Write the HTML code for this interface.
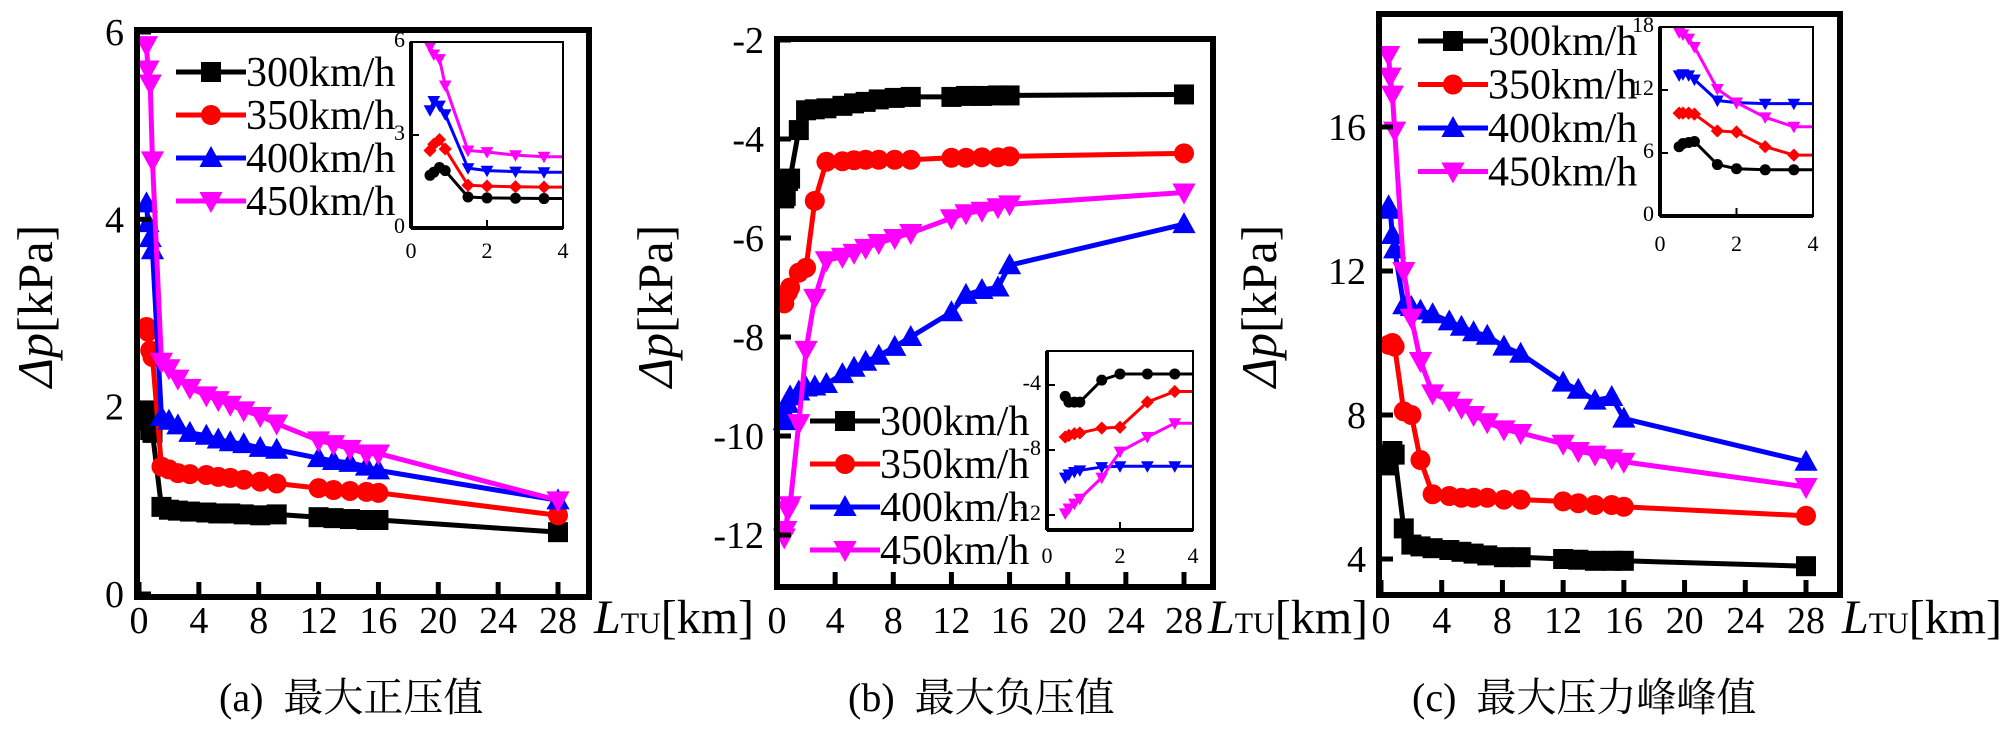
<!DOCTYPE html>
<html><head><meta charset="utf-8"><style>
html,body{margin:0;padding:0;background:#fff;}
svg{display:block;font-family:"Liberation Serif","Times New Roman","DejaVu Serif","Noto Serif CJK SC",serif;}
svg text{font-family:"Liberation Serif","Times New Roman","DejaVu Serif","Noto Serif CJK SC",serif;}
</style></head><body>
<svg id="fig" width="2000" height="731" viewBox="0 0 2000 731" xmlns="http://www.w3.org/2000/svg"></svg>
<script>
// ---------- data ----------
const speeds = ["300km/h","350km/h","400km/h","450km/h"];
const xKm = [0.5,0.6,0.75,0.9,1.5,2,2.6,3.4,4.5,5.3,6.1,7,8.1,9.2,12,13,14.1,15.2,16,28];
const xInset = [0.5,0.6,0.75,0.9,1.5,2,2.75,3.5];
const xTicks = [0,4,8,12,16,20,24,28];
const insetXTicks = [0,2,4];

const a300 = [1.96,1.85,1.75,1.72,0.93,0.9,0.89,0.88,0.87,0.86,0.86,0.85,0.84,0.85,0.82,0.81,0.8,0.79,0.79,0.66];
const a350 = [2.85,2.8,2.6,2.53,1.36,1.33,1.29,1.28,1.27,1.25,1.24,1.22,1.2,1.18,1.13,1.11,1.1,1.09,1.08,0.84];
const a400 = [4.17,3.96,3.8,3.67,1.89,1.85,1.8,1.72,1.69,1.65,1.62,1.6,1.56,1.54,1.45,1.42,1.4,1.36,1.32,1.0];
const a450 = [5.86,5.6,5.45,4.63,2.48,2.41,2.3,2.2,2.12,2.07,2.02,1.96,1.9,1.82,1.64,1.6,1.55,1.5,1.5,1.0];
const aYTicks = [0,2,4,6];
const ai300 = [1.7,1.8,1.95,1.85,1.0,0.97,0.96,0.95];
const ai350 = [2.5,2.7,2.85,2.55,1.38,1.35,1.33,1.32];
const ai400 = [3.8,4.1,3.95,3.67,1.93,1.85,1.82,1.8];
const ai450 = [5.85,5.6,5.45,4.6,2.5,2.45,2.35,2.3];
const aiYTicks = [0,3,6];

const b300 = [-5.2,-5.15,-4.85,-4.8,-3.82,-3.42,-3.4,-3.38,-3.33,-3.28,-3.25,-3.2,-3.17,-3.15,-3.15,-3.13,-3.13,-3.12,-3.12,-3.1];
const b350 = [-7.32,-7.15,-7.1,-7.0,-6.7,-6.6,-5.25,-4.46,-4.45,-4.43,-4.42,-4.42,-4.42,-4.42,-4.38,-4.38,-4.37,-4.37,-4.35,-4.29];
const b400 = [-9.7,-9.55,-9.35,-9.2,-9.1,-9.02,-9.0,-8.95,-8.75,-8.62,-8.5,-8.38,-8.2,-8.0,-7.5,-7.15,-7.05,-7.0,-6.55,-5.72];
const b450 = [-12.05,-11.9,-11.5,-11.4,-9.74,-8.26,-7.21,-6.45,-6.38,-6.3,-6.2,-6.1,-6.0,-5.9,-5.6,-5.5,-5.45,-5.38,-5.32,-5.08];
const bYTicks = [-2,-4,-6,-8,-10,-12];
const bi300 = [-4.7,-5.05,-5.05,-5.05,-3.7,-3.32,-3.32,-3.32];
const bi350 = [-7.2,-7.1,-7.0,-6.95,-6.65,-6.6,-5.05,-4.4];
const bi400 = [-9.7,-9.5,-9.35,-9.25,-9.05,-9.0,-9.0,-9.0];
const bi450 = [-11.9,-11.6,-11.3,-11.0,-9.7,-8.1,-7.2,-6.35];
const biYTicks = [-4,-8,-12];

const c300 = [6.6,6.9,7.0,6.9,4.85,4.4,4.35,4.3,4.25,4.2,4.15,4.1,4.05,4.05,4.0,3.98,3.95,3.95,3.95,3.8];
const c350 = [9.95,9.95,10.0,9.9,8.1,8.0,6.75,5.8,5.75,5.7,5.7,5.7,5.65,5.65,5.6,5.55,5.5,5.5,5.45,5.2];
const c400 = [13.8,13.7,13.0,12.6,11.05,11.0,10.9,10.8,10.6,10.45,10.3,10.2,9.9,9.7,8.9,8.7,8.4,8.5,7.9,6.7];
const c450 = [18.0,17.4,16.9,15.9,12.0,10.7,9.5,8.6,8.4,8.2,8.0,7.8,7.6,7.5,7.2,7.0,6.9,6.8,6.7,6.0];
const cYTicks = [4,8,12,16];
const ci300 = [6.6,6.9,7.0,7.1,4.9,4.5,4.4,4.4];
const ci350 = [9.8,9.8,9.8,9.7,8.1,8.0,6.6,5.8];
const ci400 = [13.4,13.5,13.4,13.0,11.0,10.8,10.7,10.7];
const ci450 = [17.5,17.3,16.9,16.1,12.1,10.8,9.4,8.5];
const ciYTicks = [0,6,12,18];

// ---------- drawing ----------
const NS = "http://www.w3.org/2000/svg";
const svg = document.getElementById("fig");
const colors = ["#000000","#ff0000","#0000ff","#ff00ff"];
function el(tag, parent){ const e=document.createElementNS(NS,tag); parent.appendChild(e); return e; }
function lin(d0,d1,p0,p1){ return v => p0 + (v-d0)*(p1-p0)/(d1-d0); }

function marker(g, shape, cx, cy, s, color){
  let m;
  if(shape==="square"){ m=el("rect",g); m.setAttribute("x",cx-s/2); m.setAttribute("y",cy-s/2); m.setAttribute("width",s); m.setAttribute("height",s); }
  else if(shape==="circle"){ m=el("circle",g); m.setAttribute("cx",cx); m.setAttribute("cy",cy); m.setAttribute("r",s/2); }
  else if(shape==="up"){ m=el("polygon",g); m.setAttribute("points",`${cx},${cy-s*0.6} ${cx-s*0.58},${cy+s*0.45} ${cx+s*0.58},${cy+s*0.45}`); }
  else if(shape==="down"){ m=el("polygon",g); m.setAttribute("points",`${cx},${cy+s*0.6} ${cx-s*0.58},${cy-s*0.45} ${cx+s*0.58},${cy-s*0.45}`); }
  else { m=el("polygon",g); m.setAttribute("points",`${cx},${cy-s*0.6} ${cx+s*0.6},${cy} ${cx},${cy+s*0.6} ${cx-s*0.6},${cy}`); }
  m.setAttribute("fill",color);
  
  
}

function text(parent, x, y, str, size, anchor){
  const t=el("text",parent);
  t.setAttribute("x",x); t.setAttribute("y",y);
  t.setAttribute("font-size",size);
  t.setAttribute("text-anchor",anchor||"start");
  t.textContent=str;
  return t;
}

const mainShapes=["square","circle","up","down"];
const insetShapes=["circle","diamond","down","down"];

function drawPanel(cfg){
  const g=el("g",svg);
  
  
  const [L,T,R,B]=cfg.box;
  const xs=cfg.xs, ys=cfg.ys;
  cfg.series.forEach((vals,i)=>{
    const sg=el("g",g);
    
    
    const pl=el("polyline",sg);
    pl.setAttribute("points",xKm.map((x,k)=>xs(x)+","+ys(vals[k])).join(" "));
    pl.setAttribute("fill","none"); pl.setAttribute("stroke",colors[i]); pl.setAttribute("stroke-width",5);
    
    
    xKm.forEach((x,k)=>marker(sg,mainShapes[i],xs(x),ys(vals[k]),20,colors[i]));
  });
  const fr=el("rect",g);
  fr.setAttribute("x",L); fr.setAttribute("y",T); fr.setAttribute("width",R-L); fr.setAttribute("height",B-T);
  fr.setAttribute("fill","none"); fr.setAttribute("stroke","#000"); fr.setAttribute("stroke-width",6);
  
  
  cfg.yTicks.forEach(v=>{
    const y=ys(v);
    const tk=el("line",g);
    tk.setAttribute("x1",L); tk.setAttribute("x2",L+14); tk.setAttribute("y1",y); tk.setAttribute("y2",y);
    tk.setAttribute("stroke","#000"); tk.setAttribute("stroke-width",5);
    
    
    const t=text(g,L-13,y+13,String(v),38,"end");
    
    
  });
  xTicks.forEach(v=>{
    const x=xs(v);
    const tk=el("line",g);
    tk.setAttribute("x1",x); tk.setAttribute("x2",x); tk.setAttribute("y1",B); tk.setAttribute("y2",B-15);
    tk.setAttribute("stroke","#000"); tk.setAttribute("stroke-width",5);
    
    
    const t=text(g,x,633,String(v),38,"middle");
    
    
  });
  const xt=text(g,cfg.xTitleX,633,"",48,"start");
  
  
  const s1=el("tspan",xt); s1.setAttribute("font-style","italic"); s1.textContent="L";
  const s2=el("tspan",xt); s2.setAttribute("font-size",30); s2.textContent="TU";
  const s3=el("tspan",xt); s3.textContent="[km]";
  const yt=text(g,0,0,"",50,"middle");
  yt.removeAttribute("x"); yt.removeAttribute("y");
  yt.setAttribute("transform",`translate(${cfg.yTitleX},306) rotate(-90)`);
  
  
  const y1=el("tspan",yt); y1.setAttribute("font-style","italic"); y1.textContent="Δp";
  const y2=el("tspan",yt); y2.textContent="[kPa]";
  const lg=el("g",g);
  
  
  speeds.forEach((s,i)=>{
    const eg=el("g",lg);
    
    
    const cy=cfg.legY+i*cfg.legDy;
    const ln=el("line",eg);
    ln.setAttribute("x1",cfg.legX); ln.setAttribute("x2",cfg.legX+70); ln.setAttribute("y1",cy); ln.setAttribute("y2",cy);
    ln.setAttribute("stroke",colors[i]); ln.setAttribute("stroke-width",5);
    marker(eg,mainShapes[i],cfg.legX+35,cy,20,colors[i]);
    text(eg,cfg.legX+70,cy+14,s,42,"start");
  });
  const ig=el("g",g);
  
  
  const [il,it,ir,ib]=cfg.ibox;
  const ixs=cfg.ixs, iys=cfg.iys;
  cfg.iseries.forEach((vals,i)=>{
    const pts=xInset.map((x,k)=>ixs(x)+","+iys(vals[k]));
    pts.push(ir+","+iys(vals[vals.length-1]));
    const pl=el("polyline",ig);
    pl.setAttribute("points",pts.join(" "));
    pl.setAttribute("fill","none"); pl.setAttribute("stroke",colors[i]); pl.setAttribute("stroke-width",3);
    
    
    xInset.forEach((x,k)=>marker(ig,insetShapes[i],ixs(x),iys(vals[k]),11,colors[i]));
  });
  const ifr=el("rect",ig);
  ifr.setAttribute("x",il); ifr.setAttribute("y",it); ifr.setAttribute("width",ir-il); ifr.setAttribute("height",ib-it);
  ifr.setAttribute("fill","none"); ifr.setAttribute("stroke","#000"); ifr.setAttribute("stroke-width",2);
  
  
  const il2=el("line",ig);
  il2.setAttribute("x1",il); il2.setAttribute("x2",il); il2.setAttribute("y1",it); il2.setAttribute("y2",ib);
  il2.setAttribute("stroke","#000"); il2.setAttribute("stroke-width",4);
  
  
  const il3=el("line",ig);
  il3.setAttribute("x1",il); il3.setAttribute("x2",ir); il3.setAttribute("y1",ib); il3.setAttribute("y2",ib);
  il3.setAttribute("stroke","#000"); il3.setAttribute("stroke-width",4);
  
  
  cfg.iyTicks.forEach(v=>{
    const y=iys(v);
    const tk=el("line",ig);
    tk.setAttribute("x1",il); tk.setAttribute("x2",il+8); tk.setAttribute("y1",y); tk.setAttribute("y2",y);
    tk.setAttribute("stroke","#000"); tk.setAttribute("stroke-width",2);
    
    
    const t=text(ig,il-6,y+5,String(v),22,"end");
    
    
  });
  insetXTicks.forEach(v=>{
    const x=ixs(v);
    const tk=el("line",ig);
    tk.setAttribute("x1",x); tk.setAttribute("x2",x); tk.setAttribute("y1",ib); tk.setAttribute("y2",ib-8);
    tk.setAttribute("stroke","#000"); tk.setAttribute("stroke-width",2);
    
    
    const t=text(ig,x,cfg.ixLabY,String(v),22,"middle");
    
    
  });
  const cp=text(g,cfg.capX,711,cfg.caption,40,"start");
  cp.style.whiteSpace="pre";
  
  
}

drawPanel({name:"panel-a-max-positive-pressure", box:[137,30,589,597],
  xs:lin(0,28,139,558), ys:lin(0,6,594,32), yTicks:aYTicks,
  series:[a300,a350,a400,a450], xTitleX:594, yTitleX:52,
  legX:176, legY:72, legDy:43,
  ibox:[411,42,563,228], ixs:lin(0,4,411,563), iys:lin(0,6,228,42), iyTicks:aiYTicks,
  iseries:[ai300,ai350,ai400,ai450], ixLabY:258,
  capX:219, caption:"(a)  最大正压值"});

drawPanel({name:"panel-b-max-negative-pressure", box:[777,39,1213,587],
  xs:lin(0,28,777,1184), ys:lin(-2,-12,40,535), yTicks:bYTicks,
  series:[b300,b350,b400,b450], xTitleX:1208, yTitleX:672,
  legX:810, legY:421, legDy:43,
  ibox:[1047,351,1193,530], ixs:lin(0,4,1047,1193), iys:lin(-4,-12,385,515), iyTicks:biYTicks,
  iseries:[bi300,bi350,bi400,bi450], ixLabY:563,
  capX:848, caption:"(b)  最大负压值"});

drawPanel({name:"panel-c-max-peak-to-peak", box:[1379,14,1840,595],
  xs:lin(0,28,1381,1806), ys:lin(4,16,559,127), yTicks:cYTicks,
  series:[c300,c350,c400,c450], xTitleX:1842, yTitleX:1276,
  legX:1418, legY:41, legDy:43.5,
  ibox:[1660,27,1813,216], ixs:lin(0,4,1660,1813), iys:lin(0,18,216,27), iyTicks:ciYTicks,
  iseries:[ci300,ci350,ci400,ci450], ixLabY:251,
  capX:1412, caption:"(c)  最大压力峰峰值"});
</script>
</body></html>
